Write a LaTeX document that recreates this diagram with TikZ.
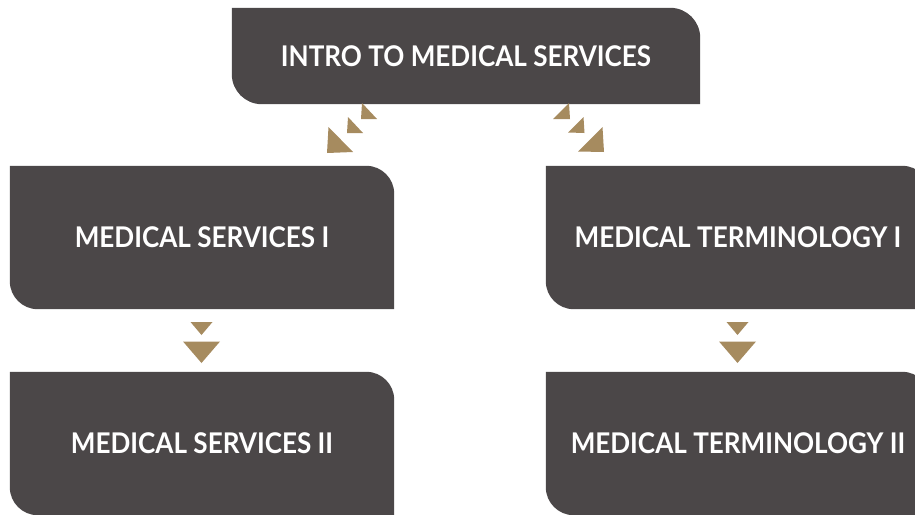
\documentclass[tikz,border=0pt]{standalone}
\usepackage{fontspec}
\setmainfont{Lato}
\newfontfamily\coursefont[FakeStretch=0.915]{Lato}
\usetikzlibrary{backgrounds}
\definecolor{boxgray}{HTML}{4B4748}
\definecolor{arrowgold}{HTML}{A68B5F}
\newcommand{\courseshape}[2]{% node name, corner radius
  \fill[boxgray] (#1.north west) -- ([xshift=-#2]#1.north east)
    arc[start angle=90,end angle=0,radius=#2] -- (#1.south east)
    -- ([xshift=#2]#1.south west)
    arc[start angle=270,end angle=180,radius=#2] -- cycle;}
\begin{document}
\begin{tikzpicture}[x=1pt,y=-1pt,
  course/.style={inner sep=0pt, minimum width=384pt, minimum height=143pt,
    text=white, font=\coursefont\bfseries\fontsize{28.5}{32}\selectfont},
  tri/.style={fill=arrowgold}]
\useasboundingbox (0,0) rectangle (915,514);
\clip (0,0) rectangle (915,514);
\node[course, minimum width=468pt, minimum height=96pt] (intro) at (466,56) {\raisebox{-1.5pt}{INTRO TO MEDICAL SERVICES}};
\node[course] (ms1) at (202,237.5) {\raisebox{-1pt}{MEDICAL SERVICES I}};
\node[course] (mt1) at (738,237.5) {\raisebox{-1pt}{MEDICAL TERMINOLOGY I}};
\node[course] (ms2) at (202,443.5) {\raisebox{-1pt}{MEDICAL SERVICES II}};
\node[course] (mt2) at (738,443.5) {\raisebox{-1pt}{MEDICAL TERMINOLOGY II}};
\begin{scope}[on background layer]
  \courseshape{intro}{30pt}
  \courseshape{ms1}{28pt}
  \courseshape{mt1}{28pt}
  \courseshape{ms2}{28pt}
  \courseshape{mt2}{28pt}
\end{scope}
% diagonal arrows intro -> ms1
\fill[tri] (362,103) -- (377,119) -- (361,119) -- cycle;
\fill[tri] (348,117) -- (363,133) -- (347,133) -- cycle;
\fill[tri] (328.5,127) -- (353,152) -- (327,153) -- cycle;
% diagonal arrows intro -> mt1
\fill[tri] (569,103) -- (553,119) -- (570,119) -- cycle;
\fill[tri] (583.5,117) -- (568,132.5) -- (584.5,133) -- cycle;
\fill[tri] (602.5,127) -- (578,151.5) -- (604,152) -- cycle;
% vertical arrows ms1 -> ms2
\fill[tri] (190.5,322) -- (212.5,322) -- (201.5,335) -- cycle;
\fill[tri] (183,341.5) -- (220,341.5) -- (201.5,363) -- cycle;
% vertical arrows mt1 -> mt2
\fill[tri] (726.5,322) -- (748.5,322) -- (737.5,335) -- cycle;
\fill[tri] (719,341.5) -- (756,341.5) -- (737.5,363) -- cycle;
\end{tikzpicture}
\end{document}
